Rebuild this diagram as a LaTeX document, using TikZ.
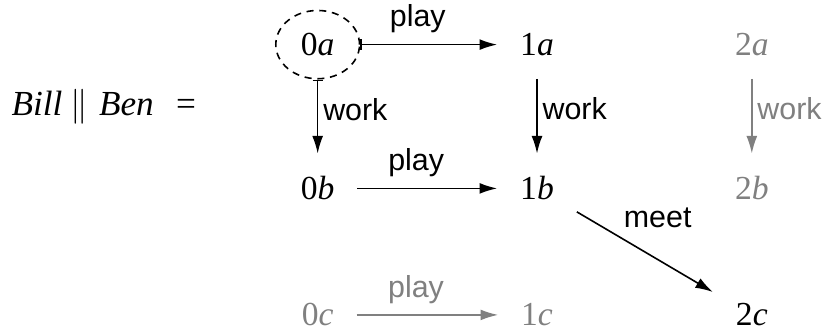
\documentclass[tikz,border=0pt]{standalone}
\usepackage{fontspec}
\setmainfont{Liberation Serif}
\setsansfont{Liberation Sans}
\usetikzlibrary{arrows.meta,shapes.geometric}
\colorlet{faded}{black!50}
\tikzset{
  state/.style={inner sep=7pt, font=\fontsize{10.5}{12}\selectfont},
  start/.style={ellipse, draw, dashed, dash pattern=on 2.2pt off 1.8pt, line width=0.5pt,
    minimum width=0.92cm, minimum height=0.75cm, inner sep=0pt, font=\fontsize{10.5}{12}\selectfont},
  trans/.style={line width=0.5pt, -{Latex[length=5.5pt,width=3.4pt]}},
  barred/.style={{Bar[width=3.2pt]}-{Latex[length=5.5pt,width=3.4pt]}},
  act/.style={font=\sffamily\fontsize{9.5}{11}\selectfont},
  idle/.style={color=faded}
}
\begin{document}
\begin{tikzpicture}
    \useasboundingbox (0,0) rectangle (9.13,3.64);
    % left-hand side
    \node[anchor=base west, inner sep=0pt, font=\fontsize{11}{13}\selectfont] (lhs) at (0.12,2.37)
        {\textit{Bill}\hspace{2.5pt}$\big\|$\hspace{3.5pt}\textit{Ben}\hspace{7pt}=};
    % row a
    \node[start] (0a) at (3.49,3.15) {0\textit{a}};
    \node[state] (1a) at (5.90,3.15) {1\textit{a}};
    \node[state,idle] (2a) at (8.26,3.15) {2\textit{a}};
    % row b
    \node[state] (0b) at (3.49,1.57) {0\textit{b}};
    \node[state] (1b) at (5.90,1.57) {1\textit{b}};
    \node[state,idle] (2b) at (8.26,1.57) {2\textit{b}};
    % row c
    \node[state,idle] (0c) at (3.49,0.18) {0\textit{c}};
    \node[state,idle] (1c) at (5.90,0.18) {1\textit{c}};
    \node[state] (2c) at (8.26,0.18) {2\textit{c}};
    % play
    \draw[trans,barred] (0a) -- node[act,above,pos=0.42] {play} (1a);
    \draw[trans] (0b) -- node[act,above,pos=0.42] {play} (1b);
    \draw[trans,idle] (0c) -- node[act,above,pos=0.42] {play} (1c);
    % work
    \draw[trans,barred] (0a) -- node[act,right,pos=0.4,inner sep=1.5pt] {work} (0b);
    \draw[trans] (1a) -- node[act,right,pos=0.4,inner sep=1.5pt] {work} (1b);
    \draw[trans,idle] (2a) -- node[act,right,pos=0.4,inner sep=1.5pt] {work} (2b);
    % meet
    \draw[trans] (1b) -- node[act,above=4pt,xshift=4pt] {meet} (2c);
\end{tikzpicture}
\end{document}
